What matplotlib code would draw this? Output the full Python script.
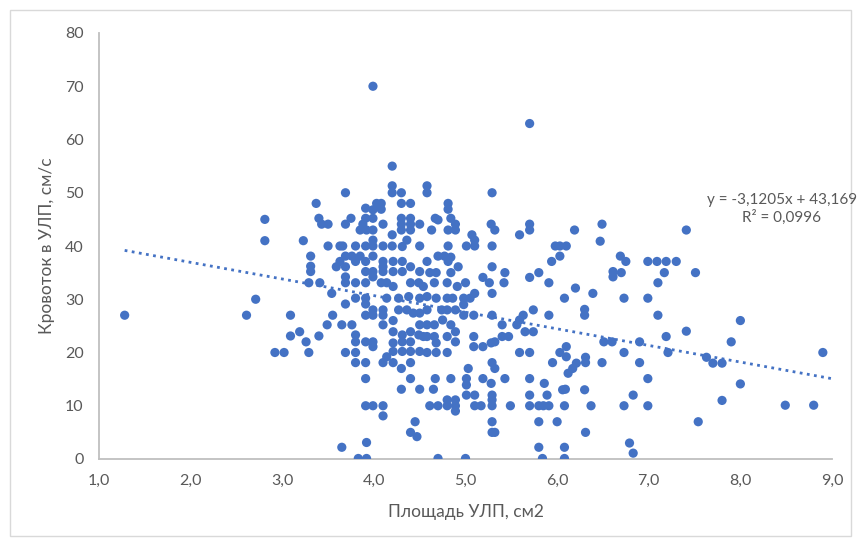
import matplotlib
matplotlib.use("Agg")
import matplotlib.pyplot as plt
from matplotlib.patches import Rectangle
from matplotlib.ticker import FuncFormatter

plt.rcParams['font.family'] = ['Lato', 'Open Sans', 'DejaVu Sans']

# (area cm2, blood flow cm/s)
area = [
    1.28, 2.61, 2.71, 2.81, 2.81, 2.92, 3.02,
    4.20, 4.20, 4.20, 4.30, 4.58, 4.58, 3.69, 3.37,
    3.91, 4.03, 4.08, 4.08, 3.99, 4.30, 4.40,
    3.40, 3.43, 3.50, 3.75, 3.69, 3.91, 3.99,
    3.85, 3.92, 3.99, 3.88, 4.10,
    4.30, 4.40, 4.30, 4.40, 4.30, 4.40, 4.50, 4.20,
    3.23, 3.50, 3.63, 3.66, 3.80, 3.91, 3.99, 4.10, 4.20, 3.99, 4.36, 4.31, 4.50,
    3.31, 3.31, 3.31, 3.69, 3.76, 3.85, 3.63, 3.59, 3.69, 3.99, 3.80, 3.91, 4.10, 4.21, 4.31,
    4.58, 4.10, 4.10, 4.21, 4.31, 3.91, 3.99, 3.99, 4.40, 4.50, 3.69,
    3.29, 3.41, 3.69, 3.80, 3.91, 4.08, 4.14, 4.21, 4.40, 4.49, 4.54,
    3.54, 3.80, 3.91, 4.14, 4.27, 4.38, 4.50, 4.58, 3.69, 3.91,
    4.27, 4.36, 4.43, 4.50, 4.58, 3.91, 3.99, 3.99, 4.10, 4.10, 3.09, 3.55,
    4.21, 4.10, 3.49, 3.65, 3.76, 4.50, 4.58,
    3.19, 3.09, 3.40, 3.80, 4.21, 4.31, 4.40, 4.49, 4.58,
    3.80, 3.91, 3.99, 3.99, 3.26, 4.21, 4.31, 4.40,
    3.29, 3.69, 3.80, 4.21, 4.31, 4.40, 4.50, 4.58, 4.14,
    3.80, 3.91, 4.10, 4.21, 4.40, 4.30,
    3.91, 4.40, 4.30, 4.50,
    3.91, 3.99, 4.10, 4.10,
    4.45, 4.40, 4.47, 3.65, 3.92, 3.83, 3.92, 3.99,
    5.29, 4.81, 4.81, 4.67, 4.70, 4.84, 4.89, 4.63, 4.81, 4.89, 5.28, 5.32, 5.70, 5.70, 5.59,
    5.07, 5.10, 5.01, 5.10, 5.29, 4.81, 5.98, 6.10, 6.03, 5.94, 4.70, 4.77, 4.84, 4.81, 4.92,
    5.29, 4.61, 4.68, 4.84, 5.43, 5.80, 5.70, 5.19, 5.26, 5.42, 5.91, 4.66, 4.80, 4.91, 5.00,
    5.29, 5.10, 5.05, 4.98, 4.86, 4.80, 4.68, 6.08, 4.98, 4.74, 4.80, 4.89, 5.74, 4.98, 5.09,
    5.29, 5.91, 5.63, 5.59, 5.56, 5.65, 5.74, 5.40, 5.40, 5.47, 5.32, 5.28, 4.75, 4.84, 4.89,
    4.66, 4.54, 4.66, 4.80, 4.68, 5.09, 5.09, 5.19, 4.89, 4.68, 4.80, 5.59, 5.70, 6.03, 6.10,
    6.10, 5.95, 5.29, 5.32, 5.03, 4.67, 4.84, 5.01, 5.01, 5.01, 5.10, 5.19, 5.28, 5.29, 5.29,
    5.43, 5.70, 5.70, 5.86, 5.89, 4.65, 6.09, 6.12, 4.61, 4.70, 4.80, 4.80, 4.89, 4.89, 4.89,
    5.10, 5.17, 5.29, 5.49, 5.70, 5.80, 5.85, 5.91, 6.08, 5.29, 5.29, 5.80, 6.00, 5.80, 6.08,
    4.70, 5.00, 5.84, 6.08,
    6.69, 6.75, 6.99, 7.09, 7.19, 6.61, 6.61, 6.70, 7.17, 7.10, 6.20, 6.39, 6.73, 6.99, 6.30,
    6.30, 7.10, 6.51, 6.60, 6.90, 7.19, 6.73, 7.21, 6.21, 6.31, 6.31, 6.17, 6.49, 6.90, 6.99,
    6.30, 6.83, 6.37, 6.73, 6.99, 6.31, 6.79, 6.83, 5.32, 6.06,
    5.70, 6.19, 6.49, 6.47, 6.03,
    7.30, 7.51, 8.00, 7.41, 7.90, 8.90, 7.63, 7.70, 7.80, 8.00, 7.80, 7.54, 8.49, 8.80, 7.41,
]
flow = [
    27, 27, 30, 45, 41, 20, 20,
    55, 51.3, 50, 50, 51.3, 50, 50, 48,
    47.1, 48, 48, 46.9, 46.8, 48, 48,
    45.2, 44.1, 44.1, 45.2, 44.1, 45.2, 45.2,
    43, 43, 43, 44.1, 44.1,
    45.2, 45.2, 44.1, 44.1, 43, 43, 44.1, 42.1,
    41, 40, 40, 40, 40, 40, 40, 40, 40, 41.1, 41.1, 39.9, 40,
    38.1, 36.2, 35.2, 38.1, 38.1, 38.1, 37.1, 36.1, 36.1, 38.1, 37.1, 37.1, 37.1, 37.1, 37.1,
    37.1, 36.1, 35.2, 35.2, 35.2, 35.2, 35.2, 34.2, 36.1, 35.2, 34.2,
    33.1, 33.1, 33.1, 33.1, 33.1, 33.1, 33.1, 32.4, 33.1, 33.1, 32.4,
    31.1, 30.2, 30.2, 30.2, 30.2, 30.5, 30.2, 30.5, 29.1, 29.1,
    28, 28, 27.4, 27.4, 28, 27, 28, 27, 28, 27, 27, 27,
    26, 25.2, 25.2, 25.2, 25.2, 25.2, 25.2,
    23.9, 23.1, 23.1, 23.3, 23.9, 23.3, 23.9, 23.3, 23,
    22, 22, 22, 21.1, 22, 21.8, 22, 22,
    20, 20, 20, 20.2, 20.2, 20.2, 20.2, 20, 19.2,
    18.1, 18.1, 18.1, 18.1, 18.1, 17,
    15.1, 15.1, 13.1, 13.1,
    10, 10, 10, 8.1,
    7, 5, 4.2, 2.2, 3.1, 0.1, 0.1, 70,
    50, 48, 46.9, 45.2, 44.9, 45.2, 44.1, 43, 43, 43, 44.1, 43, 44.1, 43, 42.1,
    42.1, 41.1, 40, 40, 40, 40, 40, 40, 38.1, 37.1, 38.1, 38.1, 37.9, 37.1, 36.1,
    36.1, 35, 35, 35, 35, 35, 34.1, 34.1, 33.1, 33.1, 33.1, 33.1, 33.1, 32.4, 33.1,
    31.1, 31.1, 30.2, 30.2, 30.2, 30.2, 30.2, 30.2, 29, 28, 28, 28, 28, 27, 27,
    27, 27, 27, 26.1, 25.2, 23.9, 23.9, 25.2, 23, 23, 22, 21.8, 26.1, 25.2, 23.9,
    25.2, 23, 23, 23, 21.8, 23, 21.1, 21.1, 22, 20, 20, 20, 20, 20, 21.1,
    19.2, 18.1, 18.1, 17, 17, 15.1, 15.1, 15.1, 13.9, 12, 12, 15.1, 14.2, 12, 11.1,
    15.1, 15.1, 12, 14.2, 12, 13.1, 13.1, 16.1, 10, 10, 11.1, 10, 11.1, 10, 9,
    10, 10, 10, 10, 10, 10, 10, 10, 10, 7, 5, 7, 7, 2.2, 2.2,
    0.1, 0.1, 0.1, 0.1,
    38.1, 37.1, 37.1, 37.1, 37.1, 35.2, 34.2, 35, 35, 33.1, 32.1, 31.1, 30.2, 30.2, 28.1,
    27, 27, 22, 22, 22, 23, 20, 20, 18, 19.1, 18.1, 17, 18.1, 18.1, 15.1,
    13, 12, 10, 10, 10, 5, 3, 1.1, 5, 13,
    63, 43, 44.1, 40.9, 40,
    37.1, 35, 26, 24, 22, 20, 19.1, 18, 18, 14.1, 11, 7, 10.1, 10.1, 43,
]

# trend line (from the chart's equation label)
slope = -3.1205
intercept = 43.169
eq_text = "y = -3,1205x + 43,169"
r2_text = "R² = 0,0996"

x_ticks = [1, 2, 3, 4, 5, 6, 7, 8, 9]
y_ticks = [0, 10, 20, 30, 40, 50, 60, 70, 80]
x_label = "Площадь УЛП, см2"
y_label = "Кровоток в УЛП, см/с"

blue = "#4472C4"
grey_txt = "#595959"
axis_col = "#BFBFBF"

W, H = 860, 545
L, R, T, B = 99, 832, 33, 459
fig = plt.figure(figsize=(W / 100, H / 100), dpi=100)
fig.patches.append(Rectangle((10 / W, 9 / H), 841 / W, 526 / H, transform=fig.transFigure,
                             fill=False, edgecolor="#D9D9D9", linewidth=1.0))
ax = fig.add_axes([L / W, (H - B) / H, (R - L) / W, (B - T) / H])

ax.scatter(area, flow, s=44, color=blue, edgecolors="none", zorder=3)

x0, x1 = min(area), x_ticks[-1]
ax.plot([x0, x1], [slope * x0 + intercept, slope * x1 + intercept],
        linestyle=(0, (1, 1.6)), color=blue, linewidth=2.0, zorder=2)

ax.set_xlim(x_ticks[0], x_ticks[-1])
ax.set_ylim(y_ticks[0], y_ticks[-1])
ax.set_xticks(x_ticks)
ax.set_yticks(y_ticks)
ax.xaxis.set_major_formatter(FuncFormatter(lambda v, p: f"{v:.1f}".replace(".", ",")))
ax.yaxis.set_major_formatter(FuncFormatter(lambda v, p: f"{int(v)}"))
ax.tick_params(axis="both", length=0, labelsize=11.5, colors=grey_txt)
ax.tick_params(axis="x", pad=11)
ax.tick_params(axis="y", pad=11)

for s in ["top", "right"]:
    ax.spines[s].set_visible(False)
for s in ["left", "bottom"]:
    ax.spines[s].set_color(axis_col)
    ax.spines[s].set_linewidth(1.3)

ax.set_xlabel(x_label, fontsize=12.5, color=grey_txt, va="center")
ax.set_ylabel(y_label, fontsize=12.5, color=grey_txt, va="center")
ax.xaxis.set_label_coords(0.5, (B - 512) / (B - T))
ax.yaxis.set_label_coords((47 - L) / (R - L), 0.5)

fig.text(782 / W, 1 - 200 / H, eq_text, ha="center", va="center", fontsize=11, color=grey_txt)
fig.text(782 / W, 1 - 217 / H, r2_text, ha="center", va="center", fontsize=11, color=grey_txt)

fig.savefig("out.png", dpi=100)
